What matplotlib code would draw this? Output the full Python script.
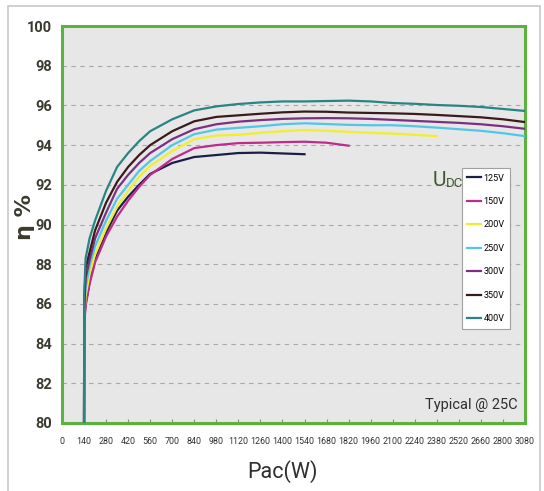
import matplotlib
matplotlib.use('Agg')
import matplotlib.pyplot as plt
from matplotlib import font_manager
from matplotlib.patches import Rectangle

# Efficiency curves (Pac in W, efficiency in %)
p_full = [140, 141, 150, 175, 210, 280, 350, 420, 490, 560, 700, 840, 980, 1120,
          1260, 1400, 1540, 1680, 1820, 1960, 2100, 2240, 2380, 2520, 2660, 2800, 2940]

eta_125 = [80, 85.2, 86.0, 87.1, 88.2, 89.6, 90.7, 91.4, 92.0, 92.55, 93.1, 93.4, 93.5,
           93.6, 93.62, 93.58, 93.54]
eta_150 = [80, 85.0, 85.9, 87.0, 88.1, 89.4, 90.4, 91.2, 91.9, 92.5, 93.3, 93.85, 94.0,
           94.1, 94.12, 94.15, 94.17, 94.12, 93.97]
eta_200 = [80, 85.3, 86.4, 87.5, 88.5, 89.8, 90.9, 91.7, 92.4, 92.95, 93.7, 94.3, 94.48,
           94.52, 94.62, 94.7, 94.76, 94.72, 94.67, 94.62, 94.58, 94.52, 94.45]
eta_250 = [80, 85.6, 86.8, 87.9, 88.9, 90.2, 91.3, 92.0, 92.7, 93.2, 94.0, 94.55, 94.78,
           94.87, 94.95, 95.05, 95.1, 95.06, 95.02, 95.0, 95.0, 94.95, 94.88, 94.8,
           94.72, 94.6, 94.45]
eta_300 = [80, 85.8, 87.3, 88.2, 89.3, 90.6, 91.8, 92.5, 93.1, 93.6, 94.3, 94.8, 95.05,
           95.18, 95.26, 95.32, 95.35, 95.36, 95.35, 95.32, 95.27, 95.22, 95.17, 95.12,
           95.05, 94.95, 94.82]
eta_350 = [80, 86.0, 87.8, 88.6, 89.7, 91.1, 92.15, 92.9, 93.5, 94.0, 94.7, 95.2, 95.42,
           95.5, 95.58, 95.65, 95.69, 95.68, 95.64, 95.62, 95.6, 95.57, 95.52, 95.46,
           95.4, 95.3, 95.16]
eta_400 = [80, 86.5, 88.3, 89.3, 90.2, 91.7, 92.9, 93.6, 94.2, 94.7, 95.3, 95.75, 95.95,
           96.07, 96.15, 96.2, 96.2, 96.22, 96.24, 96.2, 96.12, 96.08, 96.02, 95.98,
           95.92, 95.82, 95.72]

series_labels = ['125V', '150V', '200V', '250V', '300V', '350V', '400V']
series_values = [eta_125, eta_150, eta_200, eta_250, eta_300, eta_350, eta_400]
series_colors = ['#1c1f45', '#c02a8c', '#f2ee2a', '#52c6e6', '#7d2f7f', '#3b1a1c', '#2a8484']

x_tick_pos = list(range(0, 2941, 140))
x_tick_labels = [str(v) for v in range(0, 2801, 140)] + ['3080']
y_ticks = list(range(80, 101, 2))

# narrow font if there is one, Roboto otherwise
installed = {f.name for f in font_manager.fontManager.ttflist}
narrow = 'Liberation Sans Narrow' if 'Liberation Sans Narrow' in installed else 'Roboto'
plt.rcParams['font.family'] = [narrow, 'DejaVu Sans']

fig = plt.figure(figsize=(5.44, 4.91), dpi=100)
fig.patch.set_facecolor('white')
ax = fig.add_axes([62 / 544, 1 - 423 / 491, 463 / 544, 397 / 491])
ax.set_facecolor('#e7e7e7')

# thin grey frame around the whole picture
fig.patches.append(Rectangle((8 / 544, -0.05), 532 / 544, 1.05 - 6 / 491,
                             transform=fig.transFigure, fill=False,
                             edgecolor='#c8c8c8', linewidth=1.2))

for label, vals, col in zip(series_labels, series_values, series_colors):
    ax.plot(p_full[:len(vals)], vals, color=col, linewidth=1.6, label=label, zorder=3)

ax.set_xlim(0, 2940)
ax.set_ylim(80, 100)
ax.set_xticks(x_tick_pos)
ax.set_xticklabels(x_tick_labels, fontsize=6.4, color='#333333')
ax.set_yticks(y_ticks)
ax.set_yticklabels([str(v) for v in y_ticks], fontsize=10.5, fontweight='bold', color='#3a3a2e')
ax.tick_params(axis='x', direction='in', length=3, color='#8a8a8a', pad=10)
ax.tick_params(axis='y', length=0, pad=7)

for v in y_ticks[1:-1]:
    ax.axhline(v, color='#a8a8a8', linestyle=(0, (4, 4)), linewidth=0.8, zorder=1)

for s in ax.spines.values():
    s.set_color('#5bb33e')
    s.set_linewidth(2.2)

ax.set_xlabel('Pac(W)', fontsize=15.5, color='#2e2e2e')
ax.xaxis.set_label_coords(0.477, -0.092)
ax.set_ylabel('η %', fontsize=16, fontweight='bold', color='#3a3a2e',
              family=['DejaVu Sans'])
ax.yaxis.set_label_coords(-0.058, 0.52)

leg = ax.legend(loc='upper left', bbox_to_anchor=(0.864, 0.642), borderaxespad=0,
                fontsize=6.5, labelspacing=1.6, handlelength=1.5, handletextpad=0.3,
                borderpad=0.6, fancybox=False, framealpha=1, edgecolor='#a0a0a0')
leg.get_frame().set_linewidth(0.8)

ax.text(0.801, 0.61, 'U', transform=ax.transAxes, fontsize=15, color='#3e5a2a',
        ha='left', va='center')
ax.text(0.829, 0.603, 'DC', transform=ax.transAxes, fontsize=9.5, color='#3e5a2a',
        ha='left', va='center')

ax.text(0.985, 0.045, 'Typical @ 25C', transform=ax.transAxes, fontsize=10.5,
        color='#2e2e2e', ha='right', va='center')

fig.savefig('out.png', dpi=100, facecolor='white')
